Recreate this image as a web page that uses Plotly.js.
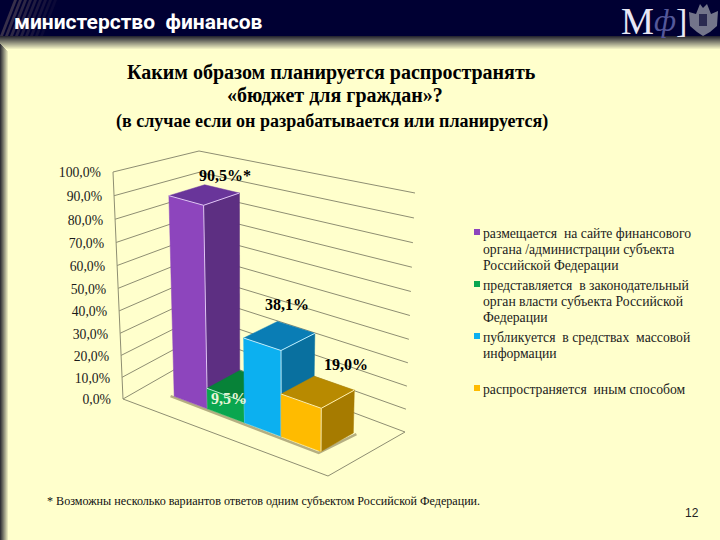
<!DOCTYPE html>
<html>
<head>
<meta charset="utf-8">
<script src="https://cdn.plot.ly/plotly-3.0.1.min.js"></script>
<style>html,body{margin:0;padding:0;background:#ffffcc}#chart{width:720px;height:540px}</style>
</head>
<body>
<div id="chart"></div>
<script>
// Values
const categories = [
  "размещается  на сайте финансового<br>органа /администрации субъекта<br>Российской Федерации",
  "представляется  в законодательный<br>орган власти субъекта Российской<br>Федерации",
  "публикуется  в средствах  массовой<br>информации",
  "распространяется  иным способом",
];
const values = [90.5, 9.5, 38.1, 19.0];
const valueLabels = ["90,5%*", "9,5%", "38,1%", "19,0%"];
const tickValues = [0, 10, 20, 30, 40, 50, 60, 70, 80, 90, 100];
const tickLabels = ["0,0%", "10,0%", "20,0%", "30,0%", "40,0%", "50,0%", "60,0%", "70,0%", "80,0%", "90,0%", "100,0%"];
const titleLines = [
  "Каким образом планируется распространять",
  "«бюджет для граждан»?",
  "(в случае если он разрабатывается или планируется)",
];
const footnote = "* Возможны несколько вариантов ответов одним субъектом Российской Федерации.";

// Bar colours: front, side, top, highlight
const FRONT = ["#8d45bd", "#0aa64f", "#0cb0f0", "#ffbb00"];
const SIDE = ["#5d2f82", "#078238", "#09709f", "#a67b00"];
const TOP = ["#69359a", "#078238", "#0a7db5", "#b88a00"];
const EDGE = ["#e0c4f5", "#b5f0cc", "#c0f0ff", "#fff0b0"];

const SERIF = "'Liberation Serif', serif";
const CREAM = "#ffffcc";
const GRID = "#8e8e72";

// Corners of the chart box: L left, F front, R right, B back
const floor = { L: [123, 399], F: [328, 476], R: [405, 432], B: [200, 355] };
const heightScale = { L: 2.27, F: 2.4, R: 2.39, B: 2.04 };
const lean = { L: -0.1, F: 0, R: 0.1, B: -0.01 };
const BAR_U = [0.137, 0.299, 0.48, 0.659, 0.853];
const BAR_V = [0.3, 0.72];
const PERSPECTIVE = 0.05;

function blend(o, u, v) {
  return (1 - u) * (1 - v) * o.L + u * (1 - v) * o.F + u * v * o.R + (1 - u) * v * o.B;
}

// u along the front of the floor, v into the depth, h in percent
function project(u, v, h) {
  const x = floor.L[0] + u * (floor.F[0] - floor.L[0]) + v * (floor.B[0] - floor.L[0]);
  const y = floor.L[1] + u * (floor.F[1] - floor.L[1]) + v * (floor.B[1] - floor.L[1]);
  // gridlines sit a little closer together near the floor
  const w = h * (1 - PERSPECTIVE * (1 - h / 100));
  return [x + blend(lean, u, v) * w, y - blend(heightScale, u, v) * w];
}

function poly(points, fill, lineColor, lineWidth) {
  const closed = fill ? points.concat([points[0]]) : points;
  return {
    x: closed.map((p) => p[0]), y: closed.map((p) => p[1]),
    type: "scatter", mode: "lines",
    fill: fill ? "toself" : "none", fillcolor: fill || undefined,
    line: { color: lineColor, width: lineWidth === undefined ? 1 : lineWidth },
    hoverinfo: "skip", showlegend: false,
  };
}

const traces = [];

// Walls and floor
tickValues.forEach((h) => {
  traces.push(poly([project(0, 0, h), project(0, 1, h), project(1, 1, h)], null, GRID));
});
traces.push(poly([project(0, 0, 0), project(0, 0, 100)], null, GRID));
traces.push(poly([project(0, 0, 0), project(1, 0, 0), project(1, 1, 0)], null, GRID));

// Soft shadow along the foot of the bars
traces.push(poly([
  project(BAR_U[0] - 0.012, BAR_V[0] - 0.015, 0),
  project(BAR_U[4], BAR_V[0] - 0.03, 0),
  project(BAR_U[4] + 0.015, BAR_V[1], 0),
], null, "rgba(120,110,70,0.55)", 2.5));

// Bars, drawn from the back of the row to the front
values.forEach((val, i) => {
  const u0 = BAR_U[i], u1 = BAR_U[i + 1], v0 = BAR_V[0], v1 = BAR_V[1];
  traces.push(poly([project(u0, v0, 0), project(u1, v0, 0), project(u1, v0, val), project(u0, v0, val)], FRONT[i], FRONT[i], 0.5));
  traces.push(poly([project(u1, v0, 0), project(u1, v1, 0), project(u1, v1, val), project(u1, v0, val)], SIDE[i], SIDE[i], 0.5));
  traces.push(poly([project(u0, v0, val), project(u1, v0, val), project(u1, v1, val), project(u0, v1, val)], TOP[i], TOP[i], 0.5));
  traces.push(poly([project(u0, v0, val), project(u1, v0, val), project(u1, v1, val)], null, EDGE[i], 1));
  traces.push(poly([project(u1, v0, val), project(u1, v0, 0)], null, EDGE[i], 1));
});

// Axis tick labels
traces.push({
  x: tickValues.map((h) => project(0, 0, h)[0] - 12),
  y: tickValues.map((h) => project(0, 0, h)[1] + 2),
  text: tickLabels, type: "scatter", mode: "text", textposition: "middle left",
  textfont: { family: SERIF, size: 13.7, color: "#1a1a1a" },
  hoverinfo: "skip", showlegend: false,
});

// Legend swatches
const LEGEND_Y = [233, 285, 337, 389];
const LEGEND_LINE = 16;
traces.push({
  x: LEGEND_Y.map(() => 477), y: LEGEND_Y.map((y) => y - 1),
  type: "scatter", mode: "markers",
  marker: { symbol: "square", size: 6, color: FRONT },
  hoverinfo: "skip", showlegend: false,
});

const annotations = [];
function label(x, y, text, size, color, extra) {
  annotations.push(Object.assign({
    x, y, xref: "x", yref: "y", text, showarrow: false,
    font: { family: SERIF, size, color }, xanchor: "center", yanchor: "middle",
  }, extra || {}));
}

// Title
label(331, 72, "<b>" + titleLines[0] + "</b>", 20, "#000");
label(335, 95, "<b>" + titleLines[1] + "</b>", 20, "#000");
label(332, 121, "<b>" + titleLines[2] + "</b>", 18, "#000");

// Value labels
const VALUE_LABEL_POS = [[225, 175], [229, 398], [287, 304], [346, 364]];
valueLabels.forEach((t, i) => {
  label(VALUE_LABEL_POS[i][0], VALUE_LABEL_POS[i][1], "<b>" + t + "</b>", 16, i === 1 ? "#e8f5d8" : "#000");
});

// Legend text, one annotation per line to hold the tight line spacing
categories.forEach((t, i) => {
  t.split("<br>").forEach((line, j) => {
    label(481, LEGEND_Y[i] + j * LEGEND_LINE, line, 13.7, "#222", { xanchor: "left" });
  });
});

// Footnote and page number
label(45, 501, footnote, 12.1, "#111", { xanchor: "left" });
label(692, 513, "12", 12, "#222", { font: { family: "'Liberation Sans', sans-serif", size: 12, color: "#222" } });

// Slide header
label(12, 22, "<b>министерство  финансов</b>", 21, "#fff", {
  xanchor: "left",
  font: { family: "Roboto, sans-serif", size: 21, color: "#ffffff" },
});
label(637, 21, "М", 37, "#e8e8f5");
label(665, 20, "<i>ф</i>", 31, "#55589a");
label(681, 20, "]", 34, "#e8e8f5");

const shapes = [];
function rect(x0, y0, x1, y1, color) {
  shapes.push({ type: "rect", xref: "x", yref: "y", x0, y0, x1, y1, fillcolor: color, line: { width: 0 }, layer: "below" });
}
function mix(a, b, t) {
  return "rgb(" + a.map((c, i) => Math.round(c + (b[i] - c) * t)).join(",") + ")";
}

// Shadow under the header, then down the left edge
for (let i = 0; i < 14; i++) rect(0, 36 + i, 720, 37 + i, mix([40, 40, 50], [255, 255, 204], i / 13));
for (let i = 0; i < 9; i++) rect(i, 44 + i, i + 1, 540, mix([50, 50, 55], [255, 255, 204], i / 8));
rect(0, 0, 720, 36, "#000033");

// Building photo behind the left end of the header
for (let i = 0; i < 9; i++) {
  shapes.push({
    type: "path", xref: "x", yref: "y", layer: "below",
    path: `M ${i * 5} 36 L ${i * 5 + 14} 0 L ${i * 5 + 17} 0 L ${i * 5 + 3} 36 Z`,
    fillcolor: "rgba(140,120,110," + (0.4 - i * 0.04) + ")", line: { width: 0 },
  });
}

// Coat of arms
shapes.push({ type: "path", xref: "x", yref: "y", layer: "below",
  path: "M 689 12 L 696 14 L 700 4 L 703 8 L 707 4 L 711 14 L 718 11 L 717 26 L 710 32 L 703 36 L 697 32 L 690 26 Z",
  fillcolor: "#73758a", line: { width: 0 } });
shapes.push({ type: "rect", xref: "x", yref: "y", layer: "below", x0: 699, y0: 14, x1: 707, y1: 26, fillcolor: "#2a2a50", line: { width: 0 } });

const layout = {
  width: 720, height: 540,
  margin: { l: 0, r: 0, t: 0, b: 0 },
  paper_bgcolor: CREAM, plot_bgcolor: CREAM,
  xaxis: { range: [0, 720], visible: false, fixedrange: true },
  yaxis: { range: [540, 0], visible: false, fixedrange: true },
  showlegend: false,
  shapes, annotations,
};

Plotly.newPlot("chart", traces, layout, { displayModeBar: false, staticPlot: true });
</script>
</body>
</html>
